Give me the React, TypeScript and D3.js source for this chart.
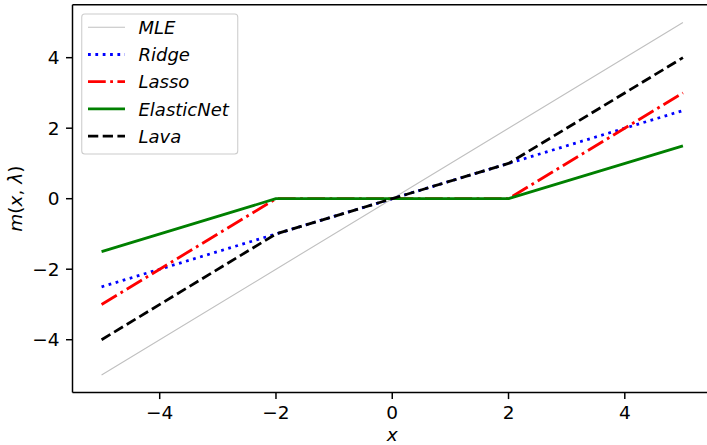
import React from 'react';
import * as d3 from 'd3';

// sample points along x, the estimators are piecewise linear so the knots are enough
const xs = [-5, -2, 0, 2, 5];
const mle = [-5, -2, 0, 2, 5];
const ridge = [-2.5, -1, 0, 1, 2.5];
const lasso = [-3, 0, 0, 0, 3];
const elasticNet = [-1.5, 0, 0, 0, 1.5];
const lava = [-4, -1, 0, 1, 4];

const xTicks = [-4, -2, 0, 2, 4];
const yTicks = [-4, -2, 0, 2, 4];

const W = 707;
const H = 445;
const FONT = '"DejaVu Sans", sans-serif';
const FS = 18.5;

// px per point in the reference render
const PT = 1.85;
const LW = 1.5 * PT;

const series = [
  {name: 'MLE', values: mle, color: '#c0c0c0', width: 0.6 * PT, dash: 'none'},
  {name: 'Ridge', values: ridge, color: 'blue', width: LW, dash: `${1 * LW} ${1.65 * LW}`},
  {name: 'Lasso', values: lasso, color: 'red', width: LW, dash: `${6.4 * LW} ${1.6 * LW} ${1 * LW} ${1.6 * LW}`},
  {name: 'ElasticNet', values: elasticNet, color: 'green', width: LW, dash: 'none'},
  {name: 'Lava', values: lava, color: 'black', width: LW, dash: `${3.7 * LW} ${1.6 * LW}`},
];

const fmt = (v: number) => (v < 0 ? '\u2212' + Math.abs(v) : String(v));

export default function App() {
  const x = d3.scaleLinear().domain([-5.5, 5.5]).range([72.5, 712]);
  const y = d3.scaleLinear().domain([-5.5, 5.5]).range([392.6, 4.8]);

  const line = d3
    .line<number>()
    .x((_, i) => x(xs[i]))
    .y((d) => y(d));

  const left = x.range()[0];
  const bottom = y.range()[0];
  const top = y.range()[1];
  const tickLen = 3.5 * PT;
  const pad = 3.5 * PT;

  const legX = 81.75;
  const legY = 14;
  const rowH = 27.2;

  return (
    <svg
      width={W}
      height={H}
      style={{position: 'absolute', left: 0, top: 0, background: 'white'}}
      fontFamily={FONT}>
      <defs>
        <clipPath id="plot">
          <rect x={left} y={top} width={W - left} height={bottom - top} />
        </clipPath>
      </defs>

      <g clipPath="url(#plot)">
        {series.map((s) => (
          <path
            key={s.name}
            d={line(s.values) || ''}
            fill="none"
            stroke={s.color}
            strokeWidth={s.width}
            strokeDasharray={s.dash}
            strokeLinejoin="round"
          />
        ))}
      </g>

      {/* spines */}
      <g stroke="black" strokeWidth={0.8 * PT} fill="none">
        <line x1={left} x2={left} y1={top} y2={bottom} />
        <line x1={left} x2={W + 5} y1={bottom} y2={bottom} />
        <line x1={left} x2={W + 5} y1={top} y2={top} />
      </g>

      {/* x ticks */}
      {xTicks.map((t) => (
        <g key={'x' + t}>
          <line x1={x(t)} x2={x(t)} y1={bottom} y2={bottom + tickLen} stroke="black" strokeWidth={0.8 * PT} />
          <text x={x(t)} y={bottom + tickLen + pad + 13.6} textAnchor="middle" fontSize={FS}>
            {fmt(t)}
          </text>
        </g>
      ))}

      {/* y ticks */}
      {yTicks.map((t) => (
        <g key={'y' + t}>
          <line x1={left - tickLen} x2={left} y1={y(t)} y2={y(t)} stroke="black" strokeWidth={0.8 * PT} />
          <text x={left - tickLen - pad} y={y(t) + 6.7} textAnchor="end" fontSize={FS}>
            {fmt(t)}
          </text>
        </g>
      ))}

      {/* axis labels */}
      <text x={x(0)} y={441} textAnchor="middle" fontSize={FS} fontStyle="italic">
        x
      </text>
      <text transform={`translate(22, ${y(0)}) rotate(-90)`} textAnchor="middle" fontSize={FS}>
        <tspan fontStyle="italic">m</tspan>
        <tspan>(</tspan>
        <tspan fontStyle="italic">x</tspan>
        <tspan>, </tspan>
        <tspan fontStyle="italic">λ</tspan>
        <tspan>)</tspan>
      </text>

      {/* legend */}
      <rect
        x={legX}
        y={legY}
        width={156}
        height={140}
        rx={3}
        fill="white"
        fillOpacity={0.8}
        stroke="#cccccc"
        strokeWidth={0.8 * PT * 0.7}
      />
      {series.map((s, i) => {
        const cy = 27.3 + i * rowH;
        return (
          <g key={'leg' + s.name}>
            <line
              x1={88}
              x2={125}
              y1={cy}
              y2={cy}
              stroke={s.color}
              strokeWidth={s.width}
              strokeDasharray={s.dash}
            />
            <text x={138.5} y={cy + 6.6} fontSize={18} fontStyle="italic">
              {s.name}
            </text>
          </g>
        );
      })}
    </svg>
  );
}
